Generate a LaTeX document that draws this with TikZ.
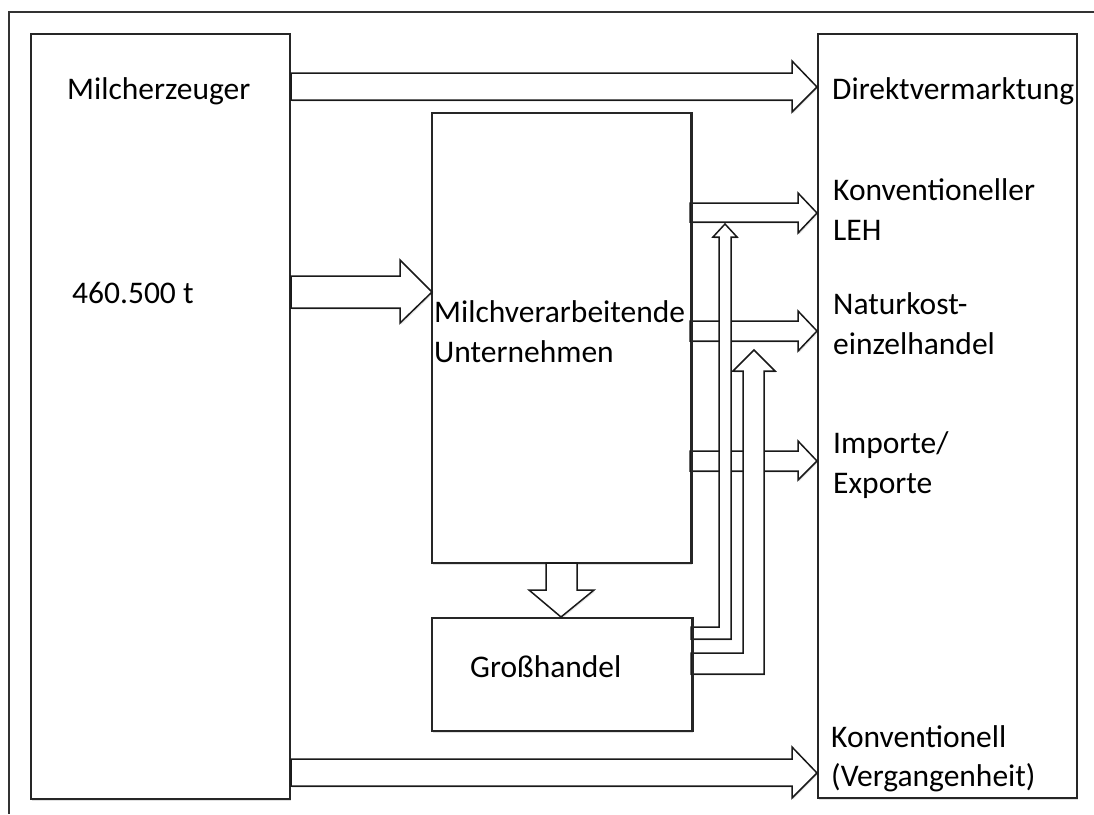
\documentclass[tikz,border=0pt]{standalone}
\usepackage{fontspec}
\setmainfont{Carlito}
\usetikzlibrary{shadows}
\begin{document}
\begin{tikzpicture}[x=1pt,y=-1pt,
  frameline/.style={draw=black!80,line width=1.5pt},
  boxstyle/.style={draw=black!85,line width=1.8pt,fill=white,rectangle,inner sep=0pt,anchor=north west,
    drop shadow={shadow xshift=1.5pt,shadow yshift=-2pt,fill=black,opacity=0.12}},
  blockarrow/.style={draw=black!90,line width=1.5pt,fill=white,line join=miter,
    drop shadow={shadow xshift=1.2pt,shadow yshift=-1.5pt,fill=black,opacity=0.10}},
  lbl/.style={anchor=base west,inner sep=0pt,font=\fontsize{31.5}{40}\selectfont}]
\useasboundingbox (0,0) rectangle (1094,814);
\fill[white] (0,0) rectangle (1094,814);
% outer frame (open at right and bottom)
\draw[frameline] (1094,12) -- (9,12) -- (9,814);
% boxes
\node[boxstyle,minimum width=259pt,minimum height=765pt] (erz) at (30,33) {};
\node[boxstyle,minimum width=259pt,minimum height=764pt] (ziel) at (817,33) {};
\node[boxstyle,minimum width=259pt,minimum height=450pt] (verarb) at (431,112) {};
\node[boxstyle,minimum width=260pt,minimum height=113pt] (gross) at (431,617) {};
% horizontal block arrows
\draw[blockarrow] (291,73) -- (792,73) -- (792,61) -- (817,87) -- (792,112) -- (792,100) -- (291,100) -- cycle;
\draw[blockarrow] (291,276) -- (400,276) -- (400,260) -- (432,292) -- (400,323) -- (400,308) -- (291,308) -- cycle;
\draw[blockarrow] (291,759) -- (792,759) -- (792,747) -- (817,773) -- (792,798) -- (792,786) -- (291,786) -- cycle;
\draw[blockarrow] (690,203) -- (798,203) -- (798,193) -- (817,213) -- (798,233) -- (798,222) -- (690,222) -- cycle;
\draw[blockarrow] (690,321) -- (798,321) -- (798,311) -- (817,331) -- (798,351) -- (798,341) -- (690,341) -- cycle;
\draw[blockarrow] (690,451) -- (798,451) -- (798,441) -- (817,461) -- (798,480) -- (798,471) -- (690,471) -- cycle;
% down arrow
\draw[blockarrow] (546,563) -- (546,590) -- (529,590) -- (561,617) -- (594,590) -- (577,590) -- (577,563) -- cycle;
% bent arrows from Grosshandel
\draw[blockarrow] (691,627) -- (719,627) -- (719,237) -- (713,237) -- (725,224) -- (737,237) -- (731,237) -- (731,639) -- (691,639) -- cycle;
\draw[blockarrow] (691,653) -- (743,653) -- (743,371) -- (733,371) -- (754,350) -- (775,371) -- (764,371) -- (764,674) -- (691,674) -- cycle;
% redraw box borders over arrow ends
\draw[draw=black!85,line width=1.8pt] (gross.north east) -- (gross.south east);
\draw[draw=black!85,line width=1.8pt] (verarb.north east) -- (verarb.south east);
% labels
\node[lbl] (t1) at (67,99) {Milcherzeuger};
\node[lbl] (t2) at (72,303) {460.500 t};
\node[lbl] (t3) at (434,322) {Milchverarbeitende};
\node[lbl] (t4) at (434,362) {Unternehmen};
\node[lbl] (t5) at (470,677) {Großhandel};
\node[lbl] (r1) at (832,99) {Direktvermarktung};
\node[lbl] (r2) at (833,200) {Konventioneller};
\node[lbl] (r3) at (833,240) {LEH};
\node[lbl] (r4) at (833,314) {Naturkost-};
\node[lbl] (r5) at (833,354) {einzelhandel};
\node[lbl] (r6) at (833,453) {Importe/};
\node[lbl] (r7) at (833,493) {Exporte};
\node[lbl] (r8) at (831,747) {Konventionell};
\node[lbl] (r9) at (831,786) {(Vergangenheit)};
\end{tikzpicture}
\end{document}
